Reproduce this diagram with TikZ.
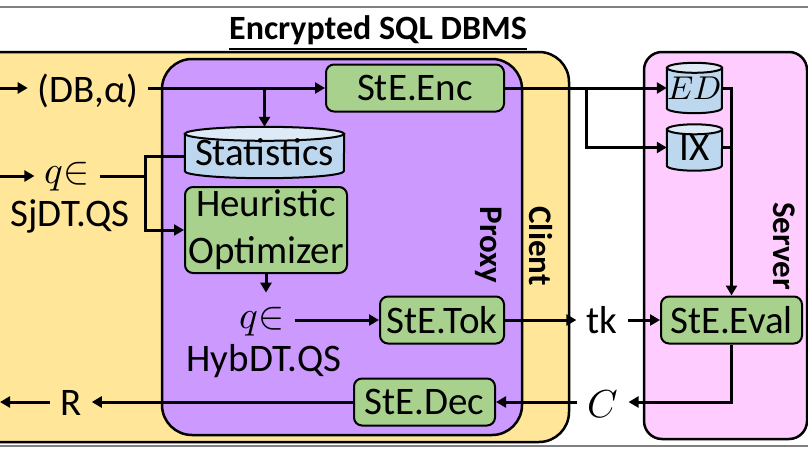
\documentclass[tikz,border=0pt]{standalone}
\usepackage{fontspec}
\usepackage{unicode-math}
\setmainfont{Carlito}
\setmathfont{Latin Modern Math}
\usetikzlibrary{arrows.meta,calc}
\definecolor{clientc}{HTML}{FFE699}
\definecolor{proxyc}{HTML}{CC99FF}
\definecolor{serverc}{HTML}{FFCCFF}
\definecolor{greenc}{HTML}{A9D18E}
\definecolor{bluec}{HTML}{BDD7EE}
\definecolor{bluetop}{HTML}{DEEBF7}
\pgfdeclarelayer{back}
\pgfdeclarelayer{mid}
\pgfsetlayers{back,mid,main}
\newcommand\cylshape[3]{%
  \draw[line width=2pt, fill=bluec] ([yshift=-#3pt]#1.north west) -- ([yshift=#3pt]#1.south west)
    arc[start angle=180,end angle=360,x radius=#2pt,y radius=#3pt] -- ([yshift=-#3pt]#1.north east) -- cycle;
  \draw[line width=2pt, fill=bluetop] ([yshift=-#3pt]#1.north) ellipse[x radius=#2pt, y radius=#3pt];
}
\begin{document}
\begin{tikzpicture}[x=1pt,y=-1pt,
  every node/.style={font=\fontsize{39}{47}\selectfont, inner sep=0pt},
  lbl/.style={inner xsep=10pt, inner ysep=0pt, anchor=base},
  proc/.style={draw, line width=2pt, fill=greenc, rounded corners=8pt, minimum height=47pt},
  store/.style={},
  conn/.style={line width=3pt, -{Triangle[length=10pt,width=11pt]}},
  wire/.style={line width=3pt},
  region/.style={draw, line width=2.5pt, rounded corners=30pt},
  side/.style={font=\fontsize{33}{40}\selectfont\bfseries, rotate=-90},
  ttl/.style={font=\fontsize{34}{40}\selectfont\bfseries, anchor=base}
]
\useasboundingbox (0,0) rectangle (808,455);
\draw[gray, line width=1.2pt] (0,7) -- (808,7);
\draw[gray, line width=1.2pt] (0,446) -- (808,446);

\begin{pgfonlayer}{back}
  \draw[region, fill=clientc] (-40,52) rectangle (569,442);
  \draw[region, fill=proxyc] (162,59) rectangle (522,435);
  \draw[region, fill=serverc, rounded corners=18pt] (644,52) rectangle (807,439);
\end{pgfonlayer}

\node[ttl] (title) at (378,39) {\underline{Encrypted SQL DBMS}};

\node[lbl] (dba) at (88,102) {(DB,α)};
\node[proc, minimum width=178pt] (enc) at (415,88) {StE.Enc};
\node[store, minimum width=159pt, minimum height=51pt] (stat) at (264.5,152.5) {Statistics};
\node[proc, minimum width=162pt, minimum height=86pt, align=center] (heur) at (266,230) {Heuristic\\Optimizer};
\node[lbl] (q1) at (67,183) {$q{\in}$};
\node[lbl] (sj) at (70,226) {SjDT.QS};
\node[lbl] (q2) at (262,328) {$q{\in}$};
\node[lbl] (hyb) at (264,371) {HybDT.QS};
\node[proc, minimum width=124pt] (tok) at (442,320) {StE.Tok};
\node[lbl] (tk) at (602,333) {tk};
\node[proc, minimum width=141pt] (eval) at (731.5,320) {StE.Eval};
\node[store, minimum width=55pt, minimum height=50pt] (ed) at (694.5,88) {\raisebox{-3pt}{\fontsize{33}{33}\selectfont$ED$}};
\node[store, minimum width=55pt, minimum height=46pt] (ix) at (694.5,147.5) {\raisebox{-2pt}{IX}};
\node[lbl] (cc) at (603,417) {$C$};
\node[proc, minimum width=141pt] (dec) at (424.5,402) {StE.Dec};
\node[lbl] (r) at (71,415) {R};
\node[side] (proxyl) at (489,245) {Proxy};
\node[side] (clientl) at (541,246) {Client};
\node[side] (serverl) at (784,246) {Server};

\begin{pgfonlayer}{mid}
  \cylshape{stat}{79.5}{7}
  \cylshape{ed}{27.5}{5}
  \cylshape{ix}{27.5}{5}
\end{pgfonlayer}

\coordinate (in1) at (0,88);
\coordinate (in2) at (0,176);
\coordinate (ret) at (0,402);
\coordinate (jq) at (145,0);
\coordinate (jx) at (586,0);

\draw[conn] (in1) -- (dba.west |- in1);
\draw[conn] (dba.east |- in1) -- (enc.west);
\draw[conn] (stat.north |- enc.west) -- (stat.north);
\draw[wire] (q1.east |- in2) -- (jq |- in2);
\draw[conn] ([yshift=-4pt]stat.west) -| (jq |- heur.west) -- (heur.west);
\draw[conn] (in2) -- (q1.west |- in2);
\draw[conn] (heur.south) -- ([yshift=14pt]heur.south |- q2.north);
\draw[conn] (q2.east |- tok.west) -- (tok.west);
\draw[conn] (tok.east) -- (tk.west |- tok.east);
\draw[conn] (tk.east |- eval.west) -- (eval.west);
\draw[conn] (enc.east) -- (ed.west);
\draw[conn] (enc.east -| jx) |- (ix.west);
\draw[conn] (ed.east) -| (eval.north);
\draw[wire] (ix.east) -- (ix.east -| eval.north);
\draw[conn] (eval.south) |- (cc.east |- ret);
\draw[conn] (cc.west |- ret) -- (dec.east);
\draw[conn] (dec.west) -- (r.east |- ret);
\draw[conn] (r.west |- ret) -- (ret);
\end{tikzpicture}
\end{document}
